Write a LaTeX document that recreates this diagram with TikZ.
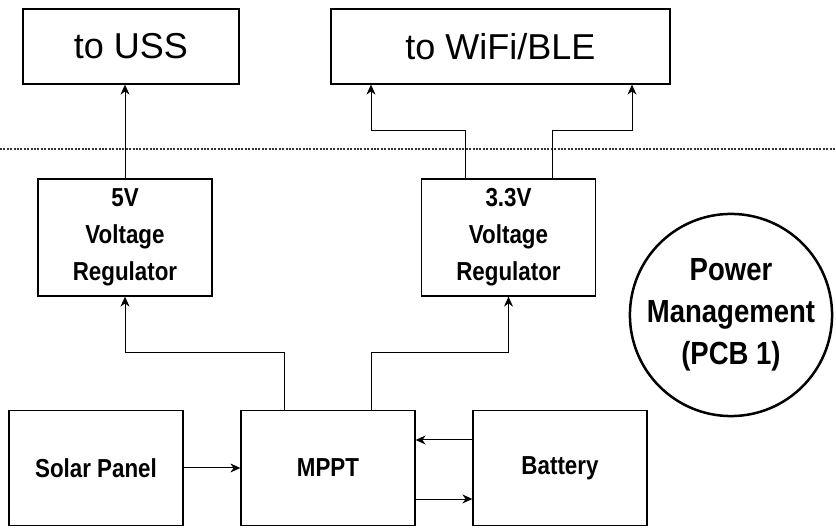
\documentclass[tikz,border=0pt]{standalone}
\usepackage{fontspec}
\setmainfont{Liberation Sans}
\newfontfamily\narrowsans{Liberation Sans}[FakeStretch=0.86]
\usetikzlibrary{arrows.meta, positioning, calc}
\tikzset{
    powerdiagram/.style={>={Stealth[length=10pt, width=9pt]}, line width=1pt, x=1pt, y=1pt},
    block/.style={draw, line width=1.3pt, minimum width=174pt, minimum height=115pt, inner sep=0pt, align=center,
        font=\narrowsans\bfseries\fontsize{26}{37}\selectfont},
    target/.style={draw, line width=1.3pt, minimum height=75pt, inner sep=0pt, font=\fontsize{36}{40}\selectfont},
    boardlabel/.style={draw, circle, line width=2.5pt, minimum size=198pt, inner sep=0pt, align=center,
        font=\narrowsans\bfseries\fontsize{32}{42}\selectfont},
    % dotted line marking the edge of the board
    boardedge/.style={dash pattern=on 2pt off 1.4pt, line width=2.4pt, black!80},
}
\begin{document}
\begin{tikzpicture}[powerdiagram]
    \useasboundingbox (0,0) rectangle (836,528);

    % bottom row
    \node[block]                          (solar)   at (96,60) {Solar Panel};
    \node[block, right=56.7pt of solar]   (mppt)    {MPPT};
    \node[block, right=56.7pt of mppt]    (battery) {Battery};

    % regulators
    \node[block, minimum height=117pt]  (reg5)  at (125,290.5)   {5V\\Voltage\\Regulator};
    \node[block, minimum height=117pt]  (reg33) at (508.5,290.5) {3.3V\\Voltage\\Regulator};

    % loads off the board
    \node[target, minimum width=216pt]  (uss)  at (131,481.5)   {to USS};
    \node[target, minimum width=339pt]  (wifi) at (500.5,481.5) {to WiFi/BLE};

    \node[boardlabel] (pcb) at (731,213) {Power\\Management\\(PCB 1)};

    \coordinate (edgeL) at (0,379);
    \coordinate (edgeR) at (836,379);
    \draw[boardedge] (edgeL) -- (edgeR);

    \coordinate (busL) at (0,175);
    \coordinate (busW) at (0,397);
    \coordinate (mpptL) at ([xshift=-43.5pt]mppt.north);
    \coordinate (mpptR) at ([xshift=43.5pt]mppt.north);
    \coordinate (r33L)  at ([xshift=-43.5pt]reg33.north);
    \coordinate (r33R)  at ([xshift=43.5pt]reg33.north);
    \coordinate (wifiL) at ([xshift=-129.5pt]wifi.south);
    \coordinate (wifiR) at ([xshift=131.5pt]wifi.south);

    \draw[->] (solar) -- (mppt);
    \draw[->] ([yshift=28pt]battery.west) -- ([yshift=28pt]mppt.east);
    \draw[->] ([yshift=-31pt]mppt.east) -- ([yshift=-31pt]battery.west);

    \draw[->] (mpptL) -- (mpptL |- busL) -- (reg5.south |- busL) -- (reg5.south);
    \draw[->] (mpptR) -- (mpptR |- busL) -- (reg33.south |- busL) -- (reg33.south);

    \draw[->] (reg5.north) -- (reg5.north |- uss.south);
    \draw[->] (r33L) -- (r33L |- busW) -- (wifiL |- busW) -- (wifiL);
    \draw[->] (r33R) -- (r33R |- busW) -- (wifiR |- busW) -- (wifiR);
\end{tikzpicture}
\end{document}
